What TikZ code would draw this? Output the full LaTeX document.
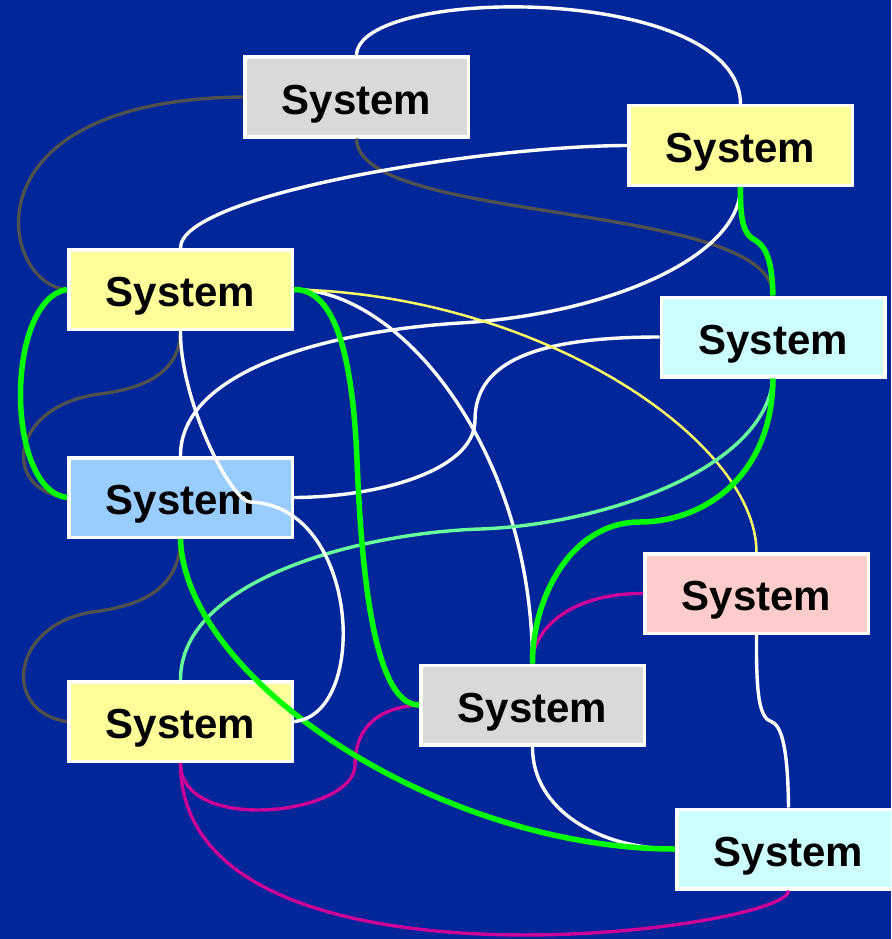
\documentclass[tikz,border=0pt]{standalone}
\usepackage{fontspec}
\setmainfont{Liberation Sans}
\definecolor{bgblue}{RGB}{0,38,153}
\definecolor{boxgray}{RGB}{217,217,217}
\definecolor{boxyellow}{RGB}{255,255,153}
\definecolor{boxcyan}{RGB}{204,255,255}
\definecolor{boxblue}{RGB}{153,204,255}
\definecolor{boxpink}{RGB}{255,204,204}
\definecolor{wiredark}{RGB}{80,80,80}
\definecolor{wiregreen}{RGB}{0,255,0}
\definecolor{wireaqua}{RGB}{102,255,153}
\definecolor{wireyellow}{RGB}{255,255,102}
\definecolor{wiremagenta}{RGB}{204,0,153}
\begin{document}
\begin{tikzpicture}[x=1pt,y=-1pt,
  sysbox/.style={draw=white, line width=3.5pt, minimum width=223.5pt,
    minimum height=79.5pt, inner sep=0pt, text height=36pt, text depth=2pt,
    font=\fontsize{42}{50}\selectfont\bfseries},
  whitewire/.style={white, line width=3.4pt},
  darkwire/.style={wiredark, line width=3.4pt},
  greenwire/.style={wiregreen, line width=5.5pt},
  aquawire/.style={wireaqua, line width=3.4pt},
  yellowwire/.style={wireyellow, line width=2.5pt},
  magwire/.style={wiremagenta, line width=3.4pt}]

\useasboundingbox (0,0) rectangle (891,939);
\clip (0,0) rectangle (891,939);
\fill[bgblue] (0,0) rectangle (891,939);

% the nine systems
\node[sysbox, fill=boxgray]   (A) at (356.5,97)   {System};
\node[sysbox, fill=boxyellow] (B) at (740.5,145.5) {System};
\node[sysbox, fill=boxyellow] (C) at (180.5,289.5) {System};
\node[sysbox, fill=boxcyan]   (D) at (773,337)    {System};
\node[sysbox, fill=boxblue]   (E) at (180.5,497.5) {System};
\node[sysbox, fill=boxpink]   (F) at (756.5,593.5) {System};
\node[sysbox, fill=boxyellow] (G) at (180.5,721.5) {System};
\node[sysbox, fill=boxgray]   (H) at (532.5,705)  {System};
\node[sysbox, fill=boxcyan]   (I) at (788.5,849)  {System};

% bend points of the two-piece curves
\coordinate (g1) at (755,240);
\coordinate (d1) at (100,394);
\coordinate (d2) at (100,611);
\coordinate (w1) at (250,502);
\coordinate (w0) at (460,323);
\coordinate (g2) at (357,460);
\coordinate (w2) at (475,420);
\coordinate (a1) at (480,529);
\coordinate (g3) at (640,522);
\coordinate (m1) at (355,765);
\coordinate (w3) at (772,722);

% dark grey links
\draw[darkwire] (A.west) .. controls (-40,100) and (0,285) .. (C.west);
\draw[darkwire] (A.south) .. controls (357,225) and (772,200) .. (D.north);
\draw[darkwire] (C.south) .. controls (180,380) and (130,390) .. (d1)
                .. controls (10,405) and (0,490) .. (E.west);
\draw[darkwire] (E.south) .. controls (180,595) and (130,606) .. (d2)
                .. controls (10,620) and (0,712) .. (G.west);

% white links
\draw[whitewire] (A.north) .. controls (357,-15) and (740,-17) .. (B.north);
\draw[whitewire] (B.west) .. controls (480,146) and (180,195) .. (C.north);
\draw[whitewire] (B.south) .. controls (740,260) and (600,315) .. (w0)
                 .. controls (330,331) and (180,370) .. (E.north);
\draw[whitewire] (C.east) .. controls (400,289) and (532,450) .. (H.north);
\draw[whitewire] (D.west) .. controls (540,337) and (475,360) .. (w2)
                 .. controls (475,470) and (380,497) .. (E.east);
\draw[whitewire] (H.south) .. controls (532,810) and (600,849) .. (I.west);
\draw[whitewire] (F.south) .. controls (756,700) and (760,718) .. (w3)
                 .. controls (784,727) and (788,760) .. (I.north);

% yellow and aqua links
\draw[yellowwire] (C.east) .. controls (540,295) and (756,440) .. (F.north);
\draw[aquawire] (D.south) .. controls (765,470) and (600,525) .. (a1)
                .. controls (360,533) and (180,580) .. (G.north);

% magenta links
\draw[magwire] (F.west) .. controls (570,593) and (532,630) .. (H.north);
\draw[magwire] (H.west) .. controls (370,708) and (355,735) .. (m1)
               .. controls (355,815) and (180,835) .. (G.south);
\draw[magwire] (G.south) .. controls (180,1010) and (790,930) .. (I.south);

% green links
\draw[greenwire] (B.south) .. controls (740,225) and (745,235) .. (g1)
                 .. controls (768,248) and (772,265) .. (D.north);
\draw[greenwire] (C.west) .. controls (5,300) and (5,490) .. (E.west);
\draw[greenwire] (C.east) .. controls (330,289) and (352,340) .. (g2)
                 .. controls (361,560) and (372,705) .. (H.west);
\draw[greenwire] (D.south) .. controls (772,480) and (700,522) .. (g3)
                 .. controls (570,522) and (532,600) .. (H.north);
\draw[greenwire] (E.south) .. controls (185,680) and (440,849) .. (I.west);

% this link runs across the blue box
\draw[whitewire] (C.south) .. controls (180,400) and (230,500) .. (w1)
                 .. controls (360,505) and (370,715) .. (G.east);
\end{tikzpicture}
\end{document}
